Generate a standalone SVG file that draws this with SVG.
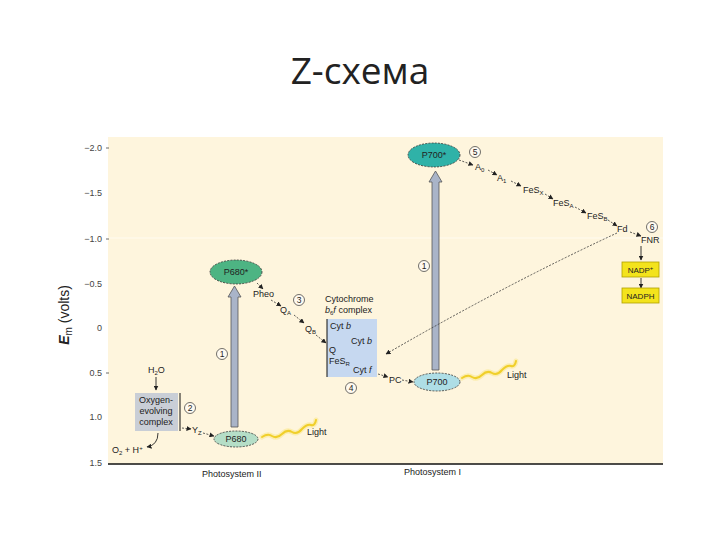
<svg xmlns="http://www.w3.org/2000/svg" width="720" height="540" viewBox="0 0 720 540">
<style>
  text { font-family: "Liberation Sans", "DejaVu Sans", sans-serif; fill: #222; }
  .t { font-size: 9px; }
  .ax { font-size: 9px; fill: #444; text-anchor: end; }
  .ps { font-size: 9px; fill: #222; }
  .num { font-size: 8.5px; text-anchor: middle; }
  .circ { fill: #fffaf0; stroke: #333; stroke-width: 0.7; }
  .dash { fill: none; stroke: #333; stroke-width: 0.8; stroke-dasharray: 2 1.5; marker-end: url(#ah); }
  .solid { fill: none; stroke: #222; stroke-width: 0.9; marker-end: url(#ah); }
  .ell { stroke: #333; stroke-width: 0.8; stroke-dasharray: 2 1.2; }
  .vert { fill: #A9B4C8; stroke: #555; stroke-width: 0.8; }
  .light { fill: none; stroke: #F0CF2A; stroke-width: 2; stroke-linecap: round; }
  .glow { fill: none; stroke: #FBEA9A; stroke-width: 5; stroke-linecap: round; opacity: 0.7; }
  .ybox { fill: #F3E31C; stroke: #B0A000; stroke-width: 0.8; }
</style>
<defs>
  <marker id="ah" viewBox="0 0 10 10" refX="9" refY="5" markerWidth="5" markerHeight="5" orient="auto" markerUnits="userSpaceOnUse">
    <path d="M0,0 L10,5 L0,10 z" fill="#222"/>
  </marker>
</defs>
<rect width="720" height="540" fill="#ffffff"/>
<text x="360" y="84" text-anchor="middle" style="font-family:'Open Sans','Liberation Sans',sans-serif;font-size:37px;fill:#222">Z-схема</text>

<!-- panel -->
<rect x="108" y="137" width="555" height="327" fill="#FEF5DD"/>
<line x1="108" y1="238" x2="663" y2="238" stroke="#FFFBF0" stroke-width="1"/>
<line x1="108" y1="464" x2="663" y2="464" stroke="#111" stroke-width="1.3"/>

<!-- axis -->
<g id="axis">
  <text class="ax" x="102" y="151">−2.0</text>
  <text class="ax" x="102" y="196">−1.5</text>
  <text class="ax" x="102" y="242">−1.0</text>
  <text class="ax" x="102" y="287">−0.5</text>
  <text class="ax" x="102" y="331">0</text>
  <text class="ax" x="102" y="376">0.5</text>
  <text class="ax" x="102" y="420">1.0</text>
  <text class="ax" x="102" y="466">1.5</text>
  <g stroke="#444" stroke-width="0.8">
    <line x1="106" y1="148" x2="109" y2="148"/>
    <line x1="106" y1="239" x2="109" y2="239"/>
    <line x1="106" y1="373" x2="109" y2="373"/>
  </g>
  <text transform="translate(69,315) rotate(-90)" text-anchor="middle" style="font-size:14px;fill:#222"><tspan font-style="italic" font-weight="bold">E</tspan><tspan font-size="10px" dy="3">m</tspan><tspan dy="-3"> (volts)</tspan></text>
  <text class="ps" x="202" y="477">Photosystem II</text>
  <text class="ps" x="404" y="475">Photosystem I</text>
</g>

<!-- connectors -->
<g id="connectors">
  <!-- PSII excitation arrow -->
  <path class="vert" d="M231,427 L231,297 L228,297 L234.5,286 L241,297 L238,297 L238,427 Z"/>
  <!-- PSI excitation arrow -->
  <path class="vert" d="M432,370 L432,182 L429,182 L435.5,171 L442,182 L439,182 L439,370 Z"/>
  <!-- PSII chain -->
  <path class="dash" d="M257,283 L263,289"/>
  <path class="dash" d="M271,300 L281,306"/>
  <path class="dash" d="M294,315 L304,323"/>
  <path class="dash" d="M316,335 L326,343"/>
  <path class="dash" d="M378,374 L388,377"/>
  <path class="dash" d="M402,380 L413,382"/>
  <!-- PSI chain -->
  <path class="dash" d="M459,160 L473,165"/>
  <path class="dash" d="M488,170 L497,175"/>
  <path class="dash" d="M511,181 L521,186"/>
  <path class="dash" d="M545,194 L553,199"/>
  <path class="dash" d="M575,207 L586,213"/>
  <path class="dash" d="M608,220 L617,226"/>
  <path class="dash" d="M630,232 L641,236"/>
  <path class="solid" d="M641,246 L641,260"/>
  <path class="solid" d="M641,278 L641,288"/>
  <!-- cyclic -->
  <path class="dash" d="M617,233 Q505,285 386,354"/>
  <!-- water side -->
  <path class="solid" d="M156,377 L156,390"/>
  <path class="dash" d="M182,428 L191,429"/>
  <path class="dash" d="M203,433 L214,436"/>
  <path class="solid" d="M158,433 Q158,445 147,447"/>
  <!-- light -->
  <path class="glow" d="M262,437 q6,-4 10,-1 q5,3 10,-2 q5,-5 10,-2 q5,3 10,-3 q5,-5 9,-4 q4,1 5,-5"/>
  <path class="light" d="M262,437 q6,-4 10,-1 q5,3 10,-2 q5,-5 10,-2 q5,3 10,-3 q5,-5 9,-4 q4,1 5,-5"/>
  <path class="glow" d="M462,378 q6,-4 10,-1 q5,3 10,-2 q5,-5 10,-2 q5,3 10,-3 q5,-5 9,-4 q4,1 5,-5"/>
  <path class="light" d="M462,378 q6,-4 10,-1 q5,3 10,-2 q5,-5 10,-2 q5,3 10,-3 q5,-5 9,-4 q4,1 5,-5"/>
</g>

<g id="P680star">
  <ellipse class="ell" cx="236" cy="272" rx="26" ry="12" fill="#4DB483"/>
  <text class="t" x="236" y="275" text-anchor="middle">P680*</text>
</g>
<g id="P700star">
  <ellipse class="ell" cx="434" cy="155" rx="26" ry="12" fill="#2FB2A8"/>
  <text class="t" x="434" y="158" text-anchor="middle">P700*</text>
</g>
<g id="P680">
  <ellipse class="ell" cx="236" cy="439" rx="22" ry="8" fill="#B5DEC7"/>
  <text class="t" x="236" y="442" text-anchor="middle">P680</text>
</g>
<g id="P700">
  <ellipse class="ell" cx="437" cy="382" rx="23" ry="9" fill="#AEDEE6"/>
  <text class="t" x="437" y="385" text-anchor="middle">P700</text>
</g>

<g id="oec">
  <rect x="135" y="393" width="43" height="38" fill="#C9CED6"/>
  <line x1="180" y1="393" x2="180" y2="431" stroke="#111" stroke-width="1"/>
  <text class="t" x="156" y="403" text-anchor="middle">Oxygen-</text>
  <text class="t" x="156" y="414" text-anchor="middle">evolving</text>
  <text class="t" x="156" y="425" text-anchor="middle">complex</text>
</g>
<g id="h2o"><text class="t" x="148" y="373">H<tspan font-size="6" dy="2">2</tspan><tspan dy="-2">O</tspan></text></g>
<g id="o2"><text class="t" x="112" y="453">O<tspan font-size="6" dy="2">2</tspan><tspan dy="-2"> + H</tspan><tspan font-size="6" dy="-3">+</tspan></text></g>
<g id="yz"><text class="t" x="192" y="433">Y<tspan font-size="6" dy="2">Z</tspan></text></g>

<g id="pheo"><text class="t" x="253" y="297">Pheo</text></g>
<g id="qa"><text class="t" x="280" y="313">Q<tspan font-size="6" dy="2">A</tspan></text></g>
<g id="qb"><text class="t" x="305" y="332">Q<tspan font-size="6" dy="2">B</tspan></text></g>

<g id="cytb6f">
  <text class="t" x="325" y="302">Cytochrome</text>
  <text class="t" x="325" y="313"><tspan font-style="italic">b</tspan><tspan font-size="6" dy="2">6</tspan><tspan dy="-2" font-style="italic">f</tspan> complex</text>
  <rect x="327" y="319" width="50" height="58" fill="#C6D8F0"/>
  <line x1="327" y1="319" x2="327" y2="377" stroke="#111" stroke-width="1"/>
  <text class="t" x="330" y="329">Cyt <tspan font-style="italic">b</tspan></text>
  <text class="t" x="351" y="344">Cyt <tspan font-style="italic">b</tspan></text>
  <text class="t" x="329" y="353">Q</text>
  <text class="t" x="329" y="364">FeS<tspan font-size="6" dy="2">R</tspan></text>
  <text class="t" x="353" y="373">Cyt <tspan font-style="italic">f</tspan></text>
</g>
<g id="pc"><text class="t" x="389" y="383">PC</text></g>

<g id="a0"><text class="t" x="475" y="170">A<tspan font-size="6" dy="2">0</tspan></text></g>
<g id="a1"><text class="t" x="497" y="181">A<tspan font-size="6" dy="2">1</tspan></text></g>
<g id="fesx"><text class="t" x="523" y="193">FeS<tspan font-size="6" dy="2">X</tspan></text></g>
<g id="fesa"><text class="t" x="553" y="206">FeS<tspan font-size="6" dy="2">A</tspan></text></g>
<g id="fesb"><text class="t" x="587" y="219">FeS<tspan font-size="6" dy="2">B</tspan></text></g>
<g id="fd"><text class="t" x="617" y="232">Fd</text></g>
<g id="fnr"><text class="t" x="641" y="243">FNR</text></g>
<g id="nadp">
  <rect class="ybox" x="622" y="262" width="37" height="15"/>
  <text x="640.5" y="272.5" text-anchor="middle" style="font-size:8px">NADP<tspan font-size="6" dy="-3">+</tspan></text>
</g>
<g id="nadph">
  <rect class="ybox" x="622" y="288" width="37" height="15"/>
  <text x="640.5" y="298.5" text-anchor="middle" style="font-size:8px">NADPH</text>
</g>

<g id="lightII"><text class="t" x="307" y="435">Light</text></g>
<g id="lightI"><text class="t" x="507" y="378">Light</text></g>

<g id="numbers">
  <circle class="circ" cx="222" cy="354" r="5.5"/><text class="num" x="222" y="357">1</text>
  <circle class="circ" cx="424" cy="266" r="5.5"/><text class="num" x="424" y="269">1</text>
  <circle class="circ" cx="190" cy="408" r="5.5"/><text class="num" x="190" y="411">2</text>
  <circle class="circ" cx="299" cy="300" r="5.5"/><text class="num" x="299" y="303">3</text>
  <circle class="circ" cx="351" cy="388" r="5.5"/><text class="num" x="351" y="391">4</text>
  <circle class="circ" cx="475" cy="152" r="5.5"/><text class="num" x="475" y="155">5</text>
  <circle class="circ" cx="652" cy="227" r="5.5"/><text class="num" x="652" y="230">6</text>
</g>
</svg>
